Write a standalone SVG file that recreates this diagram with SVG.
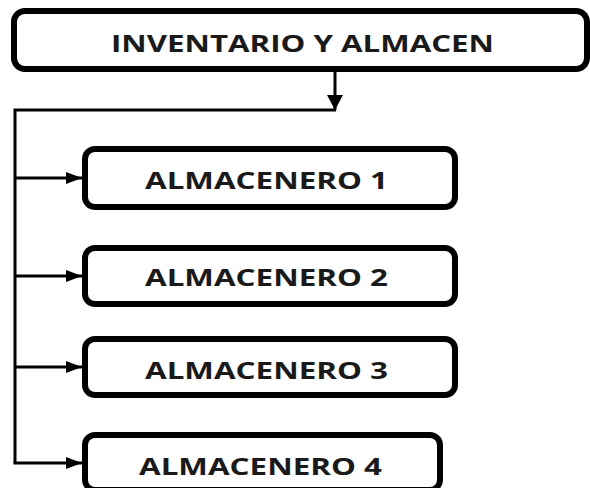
<svg xmlns="http://www.w3.org/2000/svg" width="590" height="488" viewBox="0 0 590 488">
<style>
.box{fill:#fff;stroke:#000;stroke-width:6}
.lbl{font-family:"Open Sans","Liberation Sans",sans-serif;font-weight:bold;font-size:24px;fill:#1a1a1a;text-anchor:middle;dominant-baseline:central}
.ln{fill:none;stroke:#000;stroke-width:3}
</style>
<defs>
<marker id="ah" viewBox="0 0 16 12" refX="16" refY="6" markerWidth="16" markerHeight="12" markerUnits="userSpaceOnUse" orient="auto">
<path d="M0,0 L16,6 L0,12 Z" fill="#000"/>
</marker>
<marker id="ahv" viewBox="0 0 15 16" refX="15" refY="8" markerWidth="15" markerHeight="16" markerUnits="userSpaceOnUse" orient="auto">
<path d="M0,0 L15,8 L0,16 Z" fill="#000"/>
</marker>
</defs>
<rect width="590" height="488" fill="#fff"/>
<g id="connectors">
<path class="ln" d="M335,72 V110" marker-end="url(#ahv)"/>
<path class="ln" d="M336,110 H15 V463"/>
<path class="ln" d="M15,178 H82" marker-end="url(#ah)"/>
<path class="ln" d="M15,276 H82" marker-end="url(#ah)"/>
<path class="ln" d="M15,367 H82" marker-end="url(#ah)"/>
<path class="ln" d="M13.5,463 H82" marker-end="url(#ah)"/>
</g>
<g id="inventario">
<rect class="box" x="14" y="11" width="573" height="58" rx="11"/>
<text class="lbl" x="302.5" y="42" textLength="383" lengthAdjust="spacingAndGlyphs">INVENTARIO Y ALMACEN</text>
</g>
<g id="almacenero1">
<rect class="box" x="85" y="149" width="370" height="58" rx="10"/>
<text class="lbl" x="266.5" y="179" textLength="243" lengthAdjust="spacingAndGlyphs">ALMACENERO 1</text>
</g>
<g id="almacenero2">
<rect class="box" x="85" y="248" width="370" height="56" rx="10"/>
<text class="lbl" x="266.5" y="276" textLength="243" lengthAdjust="spacingAndGlyphs">ALMACENERO 2</text>
</g>
<g id="almacenero3">
<rect class="box" x="85" y="339" width="370" height="56" rx="10"/>
<text class="lbl" x="266.5" y="369" textLength="243" lengthAdjust="spacingAndGlyphs">ALMACENERO 3</text>
</g>
<g id="almacenero4">
<rect class="box" x="85" y="435" width="355" height="55" rx="10"/>
<text class="lbl" x="260.5" y="465" textLength="243" lengthAdjust="spacingAndGlyphs">ALMACENERO 4</text>
</g>
</svg>
